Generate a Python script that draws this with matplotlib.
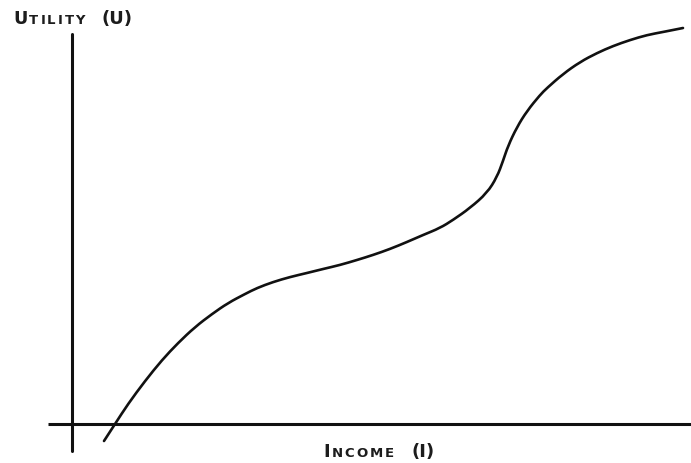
import matplotlib.pyplot as plt
import numpy as np
from matplotlib.path import Path
from matplotlib.patches import PathPatch
from matplotlib.offsetbox import TextArea, HPacker, DrawingArea, AnnotationBbox

# income / utility
income = [32, 43, 56, 73, 90, 106, 123, 140, 156, 173, 185, 201, 218, 235,
          251, 268, 285, 301, 318, 335, 351, 368, 381, 398, 415, 425, 431,
          436, 445, 455, 468, 475, 491, 508, 525, 541, 558, 575, 591, 611]
utility = [-17, 0, 20, 43, 64, 81, 97, 110, 121, 130, 136, 142, 147, 151,
           155, 159, 164, 169, 175, 182, 189, 196, 204, 216, 231, 247, 263,
           278, 297, 313, 329, 336, 350, 362, 371, 378, 384, 389, 392, 396]

COL = '#1c1c1c'


def smooth_path(xs, ys):
    # quadratic bezier through the midpoints, read points act as controls
    pts = np.column_stack([xs, ys]).astype(float)
    verts = [pts[0]]
    codes = [Path.MOVETO]
    for i in range(1, len(pts) - 1):
        end = pts[i + 1] if i == len(pts) - 2 else (pts[i] + pts[i + 1]) / 2
        verts += [pts[i], end]
        codes += [Path.CURVE3, Path.CURVE3]
    return Path(verts, codes)


def small_caps(ax, first, rest, paren, gap, xy):
    kids = [TextArea(first, textprops=dict(fontsize=12.8, fontweight='bold', color=COL))]
    for ch in rest:
        kids.append(TextArea(ch, textprops=dict(fontsize=9.5, fontweight='bold', color=COL)))
    kids.append(DrawingArea(gap, 1))
    kids.append(TextArea(paren, textprops=dict(fontsize=13, fontweight='bold', color=COL)))
    pack = HPacker(children=kids, align='baseline', pad=0, sep=1.4)
    ab = AnnotationBbox(pack, xy, xycoords='data', frameon=False,
                        box_alignment=(0, 0.5), pad=0)
    ax.add_artist(ab)


fig = plt.figure(figsize=(6.91, 4.64), dpi=100)
ax = fig.add_axes([0, 0, 1, 1])
ax.set_xlim(-72, 619)
ax.set_ylim(-39, 425)
ax.axis('off')

# axes drawn by hand
ax.plot([0, 0], [-27, 390], color='#111111', lw=2.2, solid_capstyle='round')
ax.plot([-24, 619], [0, 0], color='#111111', lw=2.2, solid_capstyle='butt')

ax.add_patch(PathPatch(smooth_path(income, utility), facecolor='none',
                       edgecolor='#111111', lw=1.9, capstyle='round'))

small_caps(ax, 'U', 'TILITY', '(U)', 9, (-59, 406))
small_caps(ax, 'I', 'NCOME', '(I)', 10, (251, -27))

fig.savefig('out.png', dpi=100)
